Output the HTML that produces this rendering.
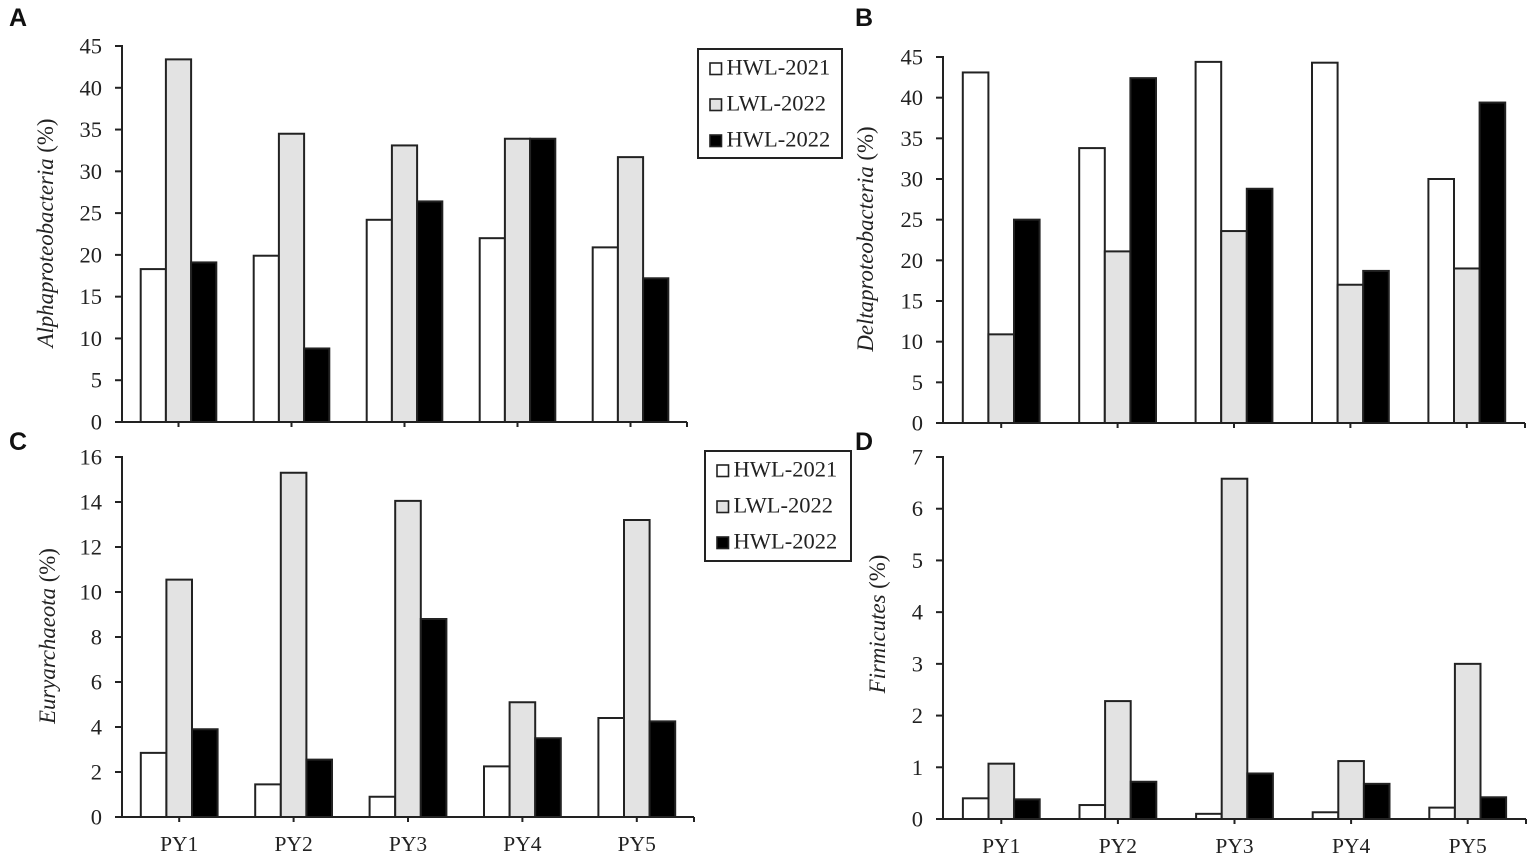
<!DOCTYPE html>
<html lang="en">
<head>
<meta charset="utf-8">
<title>Bacterial and archaeal relative abundance by site</title>
<style>
  html, body { margin: 0; padding: 0; background: #fff; }
  #figure { display: block; width: 1535px; height: 862px; }
  text { font-family: "Liberation Serif", serif; fill: #222; }
  .letter { font-family: "Liberation Sans", sans-serif; font-weight: 700; font-size: 25px; fill: #111; }
</style>
</head>
<body>
<svg id="figure" xmlns="http://www.w3.org/2000/svg" width="1535" height="862" viewBox="0 0 1535 862"></svg>
<script>
const categories = ["PY1", "PY2", "PY3", "PY4", "PY5"];
const seriesNames = ["HWL-2021", "LWL-2022", "HWL-2022"];

const alphaHwl2021 = [18.3, 19.9, 24.2, 22.0, 20.9];
const alphaLwl2022 = [43.4, 34.5, 33.1, 33.9, 31.7];
const alphaHwl2022 = [19.1, 8.8, 26.4, 33.9, 17.2];
const alphaTicks = [0, 5, 10, 15, 20, 25, 30, 35, 40, 45];

const deltaHwl2021 = [43.1, 33.8, 44.4, 44.3, 30.0];
const deltaLwl2022 = [10.9, 21.1, 23.6, 17.0, 19.0];
const deltaHwl2022 = [25.0, 42.4, 28.8, 18.7, 39.4];
const deltaTicks = [0, 5, 10, 15, 20, 25, 30, 35, 40, 45];

const euryHwl2021 = [2.85, 1.45, 0.9, 2.25, 4.4];
const euryLwl2022 = [10.55, 15.3, 14.05, 5.1, 13.2];
const euryHwl2022 = [3.9, 2.55, 8.8, 3.5, 4.25];
const euryTicks = [0, 2, 4, 6, 8, 10, 12, 14, 16];

const firmHwl2021 = [0.4, 0.27, 0.1, 0.13, 0.22];
const firmLwl2022 = [1.07, 2.28, 6.58, 1.12, 3.0];
const firmHwl2022 = [0.38, 0.72, 0.88, 0.68, 0.42];
const firmTicks = [0, 1, 2, 3, 4, 5, 6, 7];

const SVG_NS = "http://www.w3.org/2000/svg";
const INK = "#222";
const fills = ["#ffffff", "#e3e3e3", "#000000"];
const root = document.getElementById("figure");

function make(parent, tag, attrs, text) {
  const el = document.createElementNS(SVG_NS, tag);
  for (const k in attrs) el.setAttribute(k, attrs[k]);
  if (text !== undefined) el.textContent = text;
  parent.appendChild(el);
  return el;
}

function drawPanel(p) {
  const g = make(root, "g", {});
  
  

  const maxTick = p.ticks[p.ticks.length - 1];
  const yScale = v => p.y0 - (v / maxTick) * (p.y0 - p.yTop);
  const step = (p.xEnd - p.x0) / categories.length;
  const xCenter = i => p.x0 + step * (i + 0.5);

  const letter = make(g, "text", { x: p.letterX, y: p.letterY, class: "letter" }, p.letter);
  
  

  // bars
  p.series.forEach((values, s) => {
    values.forEach((v, i) => {
      const x = xCenter(i) + (s - 1.5) * p.barW;
      const y = yScale(v);
      const bar = make(g, "rect", {
        x: x, y: y, width: p.barW, height: p.y0 - y,
        fill: fills[s], stroke: INK, "stroke-width": 2
      });
      
      
    });
  });

  // y axis
  const yAxis = make(g, "line", { x1: p.x0, x2: p.x0, y1: p.yTop - 1, y2: p.y0, stroke: INK, "stroke-width": 2 });
  
  

  p.ticks.forEach(t => {
    const y = yScale(t);
    const tick = make(g, "line", { x1: p.x0 - 7, x2: p.x0, y1: y, y2: y, stroke: INK, "stroke-width": 2 });
    
    
    const label = make(g, "text", { x: p.x0 - 20, y: y + 7.5, "text-anchor": "end", "font-size": 22.5 }, String(t));
    
    
  });

  // x axis
  const xAxis = make(g, "line", { x1: p.x0 - 7, x2: p.xEnd, y1: p.y0, y2: p.y0, stroke: INK, "stroke-width": 2 });
  
  

  const endTick = make(g, "line", { x1: p.xEnd, x2: p.xEnd, y1: p.y0, y2: p.y0 + 5, stroke: INK, "stroke-width": 2 });
  
  

  categories.forEach((c, i) => {
    const tick = make(g, "line", { x1: xCenter(i), x2: xCenter(i), y1: p.y0, y2: p.y0 + 5, stroke: INK, "stroke-width": 2 });
    
    
    if (p.showCats) {
      const label = make(g, "text", { x: xCenter(i), y: p.y0 + 34, "text-anchor": "middle", "font-size": 21.5 }, c);
      
      
    }
  });

  // y axis title
  const title = make(g, "text", {
    transform: "translate(" + p.titleX + "," + p.titleY + ") rotate(-90)",
    "text-anchor": "middle", "font-size": 22.8
  });
  
  
  make(title, "tspan", { "font-style": "italic" }, p.title);
  make(title, "tspan", {}, " (%)");

  // legend
  if (p.legend) {
    const L = p.legend;
    const box = make(g, "rect", { x: L.x, y: L.y, width: L.w, height: L.h, fill: "#fff", stroke: INK, "stroke-width": 2 });
    
    
    seriesNames.forEach((n, s) => {
      const swatch = make(g, "rect", {
        x: L.x + 12, y: L.y + 14 + s * 36, width: 11.5, height: 11.5,
        fill: fills[s], stroke: INK, "stroke-width": 1.6
      });
      
      
      const label = make(g, "text", { x: L.x + 28.5, y: L.y + 25.5 + s * 36, "font-size": 22.5 }, n);
      
      
    });
  }
}

drawPanel({
  letter: "A", letterX: 9, letterY: 26, title: "Alphaproteobacteria",
  titleX: 53, titleY: 233, x0: 122, xEnd: 687, yTop: 46, y0: 422, barW: 25.2,
  ticks: alphaTicks, series: [alphaHwl2021, alphaLwl2022, alphaHwl2022],
  showCats: false, legend: { x: 698, y: 49, w: 144, h: 109 }
});
drawPanel({
  letter: "B", letterX: 855, letterY: 26, title: "Deltaproteobacteria",
  titleX: 873, titleY: 239, x0: 943, xEnd: 1525, yTop: 57, y0: 423, barW: 25.6,
  ticks: deltaTicks, series: [deltaHwl2021, deltaLwl2022, deltaHwl2022],
  showCats: false
});
drawPanel({
  letter: "C", letterX: 9, letterY: 450, title: "Euryarchaeota",
  titleX: 55, titleY: 636, x0: 122, xEnd: 694, yTop: 457, y0: 817, barW: 25.6,
  ticks: euryTicks, series: [euryHwl2021, euryLwl2022, euryHwl2022],
  showCats: true, legend: { x: 705, y: 451, w: 146, h: 110 }
});
drawPanel({
  letter: "D", letterX: 855, letterY: 450, title: "Firmicutes",
  titleX: 885, titleY: 624, x0: 943, xEnd: 1526, yTop: 457, y0: 819, barW: 25.6,
  ticks: firmTicks, series: [firmHwl2021, firmLwl2022, firmHwl2022],
  showCats: true
});
</script>
</body>
</html>
